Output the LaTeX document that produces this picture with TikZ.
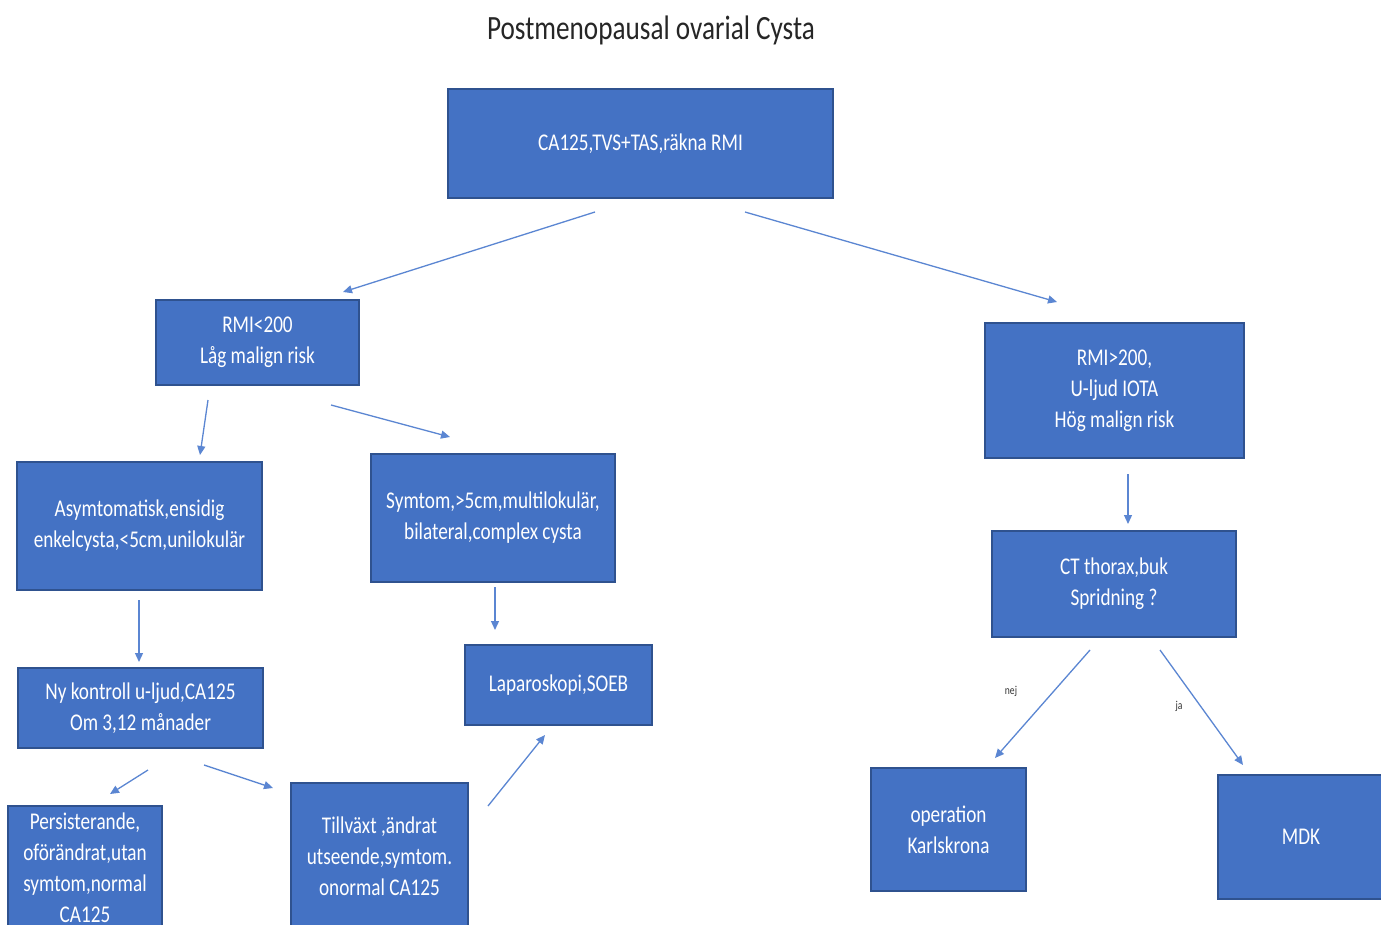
\documentclass[tikz,border=0pt]{standalone}
\usepackage{fontspec}
\setmainfont{Carlito}[FakeStretch=0.8]
\usetikzlibrary{arrows.meta}
\definecolor{boxblue}{HTML}{4472C4}
\definecolor{boxedge}{HTML}{2F528F}
\definecolor{arrblue}{HTML}{5B86D2}
\tikzset{
  box/.style={draw=boxedge, line width=1.2pt, fill=boxblue, text=white, align=center,
    inner sep=2pt, font=\fontsize{24}{31}\selectfont},
  link/.style={draw=arrblue, line width=1.3pt, -{Triangle[length=9pt,width=8pt]}},
  small/.style={font=\fontsize{12}{14}\selectfont, text=black!80}
}
\begin{document}
\begin{tikzpicture}[x=1pt,y=-1pt]
\clip (0,0) rectangle (1381,925);
\fill[white] (0,0) rectangle (1381,925);

\node[font=\fontsize{34}{40}\selectfont, text=black!85] (title) at (651,30) {Postmenopausal ovarial Cysta};

\node[box, minimum width=385pt, minimum height=109pt] (top) at (640.5,143.5) {CA125,TVS+TAS,räkna RMI};
\node[box, minimum width=203pt, minimum height=85pt] (lo) at (257.5,342.5) {RMI<200\\Låg malign risk};
\node[box, minimum width=259pt, minimum height=135pt] (hi) at (1114.5,390.5) {RMI>200,\\U-ljud IOTA\\Hög malign risk};
\node[box, minimum width=245pt, minimum height=128pt] (asym) at (139.5,526) {Asymtomatisk,ensidig\\enkelcysta,<5cm,unilokulär};
\node[box, minimum width=244pt, minimum height=128pt] (symt) at (493,518) {Symtom,>5cm,multilokulär,\\bilateral,complex cysta};
\node[box, minimum width=244pt, minimum height=106pt] (ct) at (1114,584) {CT thorax,buk\\Spridning ?};
\node[box, minimum width=245pt, minimum height=80pt] (ny) at (140.5,708) {Ny kontroll u-ljud,CA125\\Om 3,12 månader};
\node[box, minimum width=187pt, minimum height=80pt] (lap) at (558.5,685) {Laparoskopi,SOEB};
\node[box, minimum width=154pt, minimum height=124pt] (pers) at (85,868) {Persisterande,\\oförändrat,utan\\symtom,normal\\CA125};
\node[box, minimum width=177pt, minimum height=146pt] (till) at (379.5,856) {Tillväxt ,ändrat\\utseende,symtom.\\onormal CA125};
\node[box, minimum width=155pt, minimum height=123pt] (op) at (948.5,829.5) {operation\\Karlskrona};
\node[box, minimum width=166pt, minimum height=124pt] (mdk) at (1301,837) {MDK};

% free connector ends
\coordinate (a1s) at (595,212); \coordinate (a1e) at (343,292);
\coordinate (a2s) at (745,212); \coordinate (a2e) at (1057,302);
\coordinate (a3s) at (208,400); \coordinate (a3e) at (200,455);
\coordinate (a4s) at (331,405); \coordinate (a4e) at (450,437);
\coordinate (a5s) at (139,600); \coordinate (a5e) at (139,662);
\coordinate (a6s) at (495,587); \coordinate (a6e) at (495,630);
\coordinate (a7s) at (1128,474); \coordinate (a7e) at (1128,524);
\coordinate (a8s) at (148,770); \coordinate (a8e) at (110,794);
\coordinate (a9s) at (204,765); \coordinate (a9e) at (273,788);
\coordinate (a10s) at (488,806); \coordinate (a10e) at (545,735);
\coordinate (a11s) at (1090,650); \coordinate (a11e) at (995,758);
\coordinate (a12s) at (1160,650); \coordinate (a12e) at (1243,765);

\draw[link] (a1s) -- (a1e);
\draw[link] (a2s) -- (a2e);
\draw[link] (a3s) -- (a3e);
\draw[link] (a4s) -- (a4e);
\draw[link] (a5s) -- (a5e);
\draw[link] (a6s) -- (a6e);
\draw[link] (a7s) -- (a7e);
\draw[link] (a8s) -- (a8e);
\draw[link] (a9s) -- (a9e);
\draw[link] (a10s) -- (a10e);
\draw[link] (a11s) -- (a11e);
\draw[link] (a12s) -- (a12e);

\node[small] (nej) at (1011,691) {nej};
\node[small] (ja) at (1179,706) {ja};
\end{tikzpicture}
\end{document}
